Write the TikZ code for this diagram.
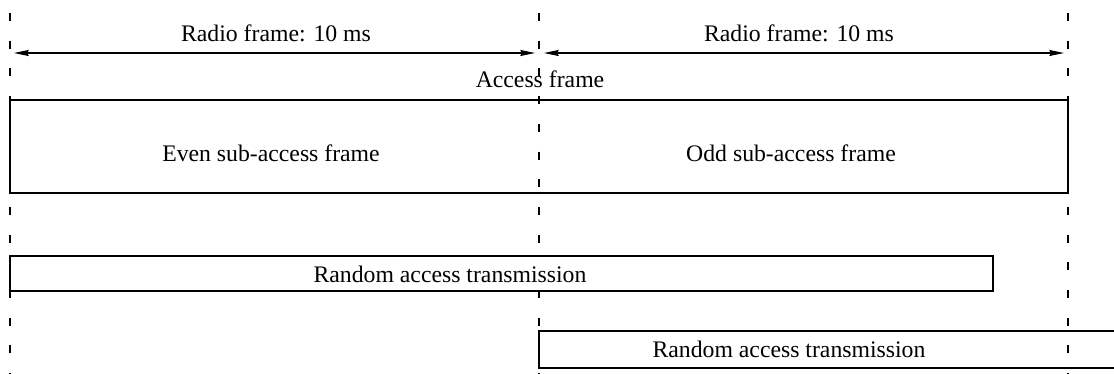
\documentclass[tikz,border=0pt]{standalone}
\usepackage{fontspec}
\setmainfont{Liberation Serif}
\usetikzlibrary{arrows.meta}

\begin{document}
\begin{tikzpicture}[x=0.75pt,y=-0.75pt,
  txt/.style={anchor=base,inner sep=0pt,font=\fontsize{17.8}{20}\selectfont},
  frame/.style={line width=1.5pt},
  span/.style={{Stealth[length=11pt,width=4.5pt,inset=1pt]}-{Stealth[length=11pt,width=4.5pt,inset=1pt]},line width=0.8pt},
  bound/.style={line width=1.5pt,dash pattern=on 6pt off 14.78pt,dash phase=11.03pt}]
  \useasboundingbox (0,0) rectangle (1114,374);
  \clip (0,0) rectangle (1114,374);
  % frame boundaries
  \foreach \bx/\bn in {10/left,539/mid,1068/right}
    \draw[bound] (\bx,0) coordinate (\bn top) -- (\bx,374) coordinate (\bn bot);
  % radio frames
  \coordinate (rfa) at (14,53);
  \coordinate (rfb) at (535,53);
  \coordinate (rfc) at (544,53);
  \coordinate (rfd) at (1064,53);
  \draw[span] (rfa) -- (rfb);
  \draw[span] (rfc) -- (rfd);
  \node[txt] (rf1) at (276,42) {Radio frame: 10 ms};
  \node[txt] (rf2) at (799,42) {Radio frame: 10 ms};
  % access frame
  \node[txt] (access) at (540,88) {Access frame};
  \draw[frame] (10,100) rectangle (1068,193);
  \node[txt] (even) at (271,162) {Even sub-access frame};
  \node[txt] (odd) at (791,162) {Odd sub-access frame};
  % transmissions
  \draw[frame,fill=white] (10,256) rectangle (993,291);
  \node[txt] (rach1) at (450,282) {Random access transmission};
  \draw[frame] (539,331) rectangle (1130,368);
  \node[txt] (rach2) at (789,357) {Random access transmission};
\end{tikzpicture}
\end{document}
